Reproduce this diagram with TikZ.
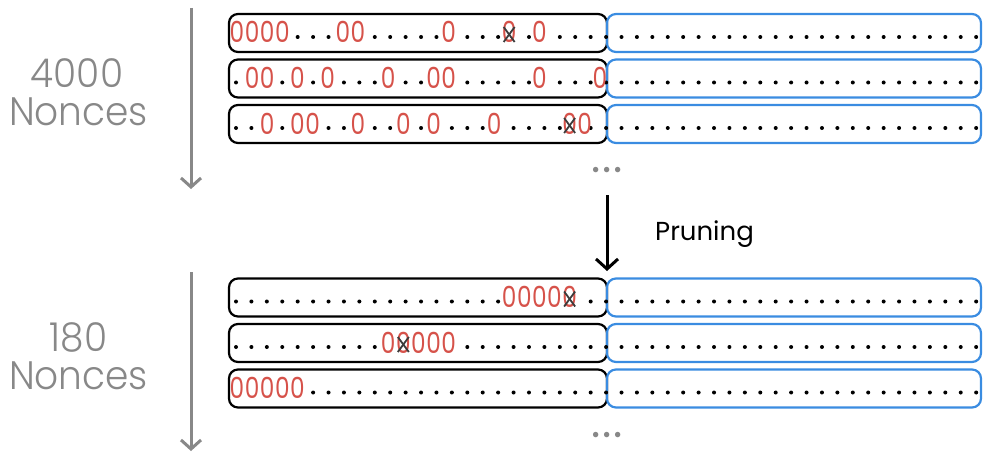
\documentclass[tikz,border=0pt]{standalone}
\usepackage{fontspec}
\setmainfont{Poppins}
\newfontfamily\lightfont{Poppins Light}
\usetikzlibrary{arrows.meta}
\definecolor{zred}{RGB}{214,82,74}
\definecolor{bblue}{RGB}{58,140,225}
\definecolor{lgray}{RGB}{136,136,136}
\definecolor{xgray}{RGB}{60,60,60}
\tikzset{
  blackbox/.style={draw=black, line width=2.2pt, rounded corners=9pt, minimum width=378pt, minimum height=38pt, inner sep=0pt},
  bluebox/.style={draw=bblue, line width=2.2pt, rounded corners=9pt, minimum width=374pt, minimum height=38pt, inner sep=0pt},
  zero/.style={text=zred, font=\fontsize{29}{29}\selectfont, inner sep=0pt, anchor=base},
  lbl/.style={text=lgray, font=\lightfont\fontsize{37.5}{37.5}\selectfont, inner sep=0pt, anchor=base, text height=27pt, text depth=0pt},
  ell/.style={text=lgray, font=\fontsize{44}{44}\selectfont, inner sep=0pt, anchor=base, text height=5pt, text depth=0pt},
  grayarrow/.style={draw=lgray, line width=3pt, -{Straight Barb[length=9pt,width=20pt,line width=3pt]}},
  prunearrow/.style={draw=black, line width=3pt, -{Straight Barb[length=10pt,width=22pt,line width=3pt]}},
  crossmark/.style={draw=xgray, line width=1.8pt},
}
\newcommand\noncerow[4]{%
  \node[blackbox] (L#1) at (418,#2) {};
  \node[bluebox] (R#1) at (794,#2) {};
  \foreach \k in {#3} \fill (236+15.42*\k, #2+4) circle (2pt);
  \foreach \j in {25,...,48} \fill (236+15.42*\j, #2+4) circle (2pt);
  \foreach \k [count=\i] in {#4} \node[zero] (z#1-\i) at (237+15.12*\k, #2+10) {\scalebox{0.8}[1]{0}};
}
\newcommand\crossat[2]{%
  \draw[crossmark] (237+15.12*#1-5.5, #2-6) -- (237+15.12*#1+5.5, #2+9);
  \draw[crossmark] (237+15.12*#1+5.5, #2-6) -- (237+15.12*#1-5.5, #2+9);
}
\begin{document}
\begin{tikzpicture}[x=1pt,y=-1pt]
\useasboundingbox (0,0) rectangle (983,452);
% top group
\noncerow{1}{33}{4,5,6,9,10,11,12,13,15,16,17,19,21,22,23,24}{0,1,2,3,7,8,14,18,20}
\crossat{18}{33}
\noncerow{2}{78.5}{0,3,5,7,8,9,11,12,15,16,17,18,19,21,22,23,24}{1,2,4,6,10,13,14,20,24}
\noncerow{3}{124}{0,1,3,6,7,9,10,12,14,15,16,18,19,20,21,23,24}{2,4,5,8,11,13,17,22,23}
\crossat{22}{124}
\node[ell] (e1) at (607,172) {.\kern1.5pt.\kern1.5pt.};
% bottom group
\noncerow{4}{297.5}{0,...,17,23,24}{18,19,20,21,22}
\crossat{22}{297.5}
\noncerow{5}{343}{0,...,9,15,16,17,18,19,20,21,22,23,24}{10,11,12,13,14}
\crossat{11}{343}
\noncerow{6}{388.5}{5,...,24}{0,1,2,3,4}
\node[ell] (e2) at (607,437) {.\kern1.5pt.\kern1.5pt.};
% labels
\node[lbl] (c1) at (77,87.5) {\scalebox{1}[1.06]{4000}};
\node[lbl] (c1n) at (78.5,125) {\scalebox{1}[1.06]{Nonces}};
\node[lbl] (c2) at (78.5,351.5) {\scalebox{1}[1.06]{180}};
\node[lbl] (c2n) at (78.5,389) {\scalebox{1}[1.06]{Nonces}};
% arrows
\coordinate (a1s) at (191,8);
\coordinate (a1e) at (191,189);
\draw[grayarrow] (a1s) -- (a1e);
\coordinate (a2s) at (191,272);
\coordinate (a2e) at (191,451);
\draw[grayarrow] (a2s) -- (a2e);
\coordinate (ps) at (607,195);
\coordinate (pe) at (607,271);
\draw[prunearrow] (ps) -- (pe);
\node[anchor=base west, inner sep=0pt, font=\fontsize{26}{26}\selectfont] (prun) at (655,240) {Pruning};
\end{tikzpicture}
\end{document}
